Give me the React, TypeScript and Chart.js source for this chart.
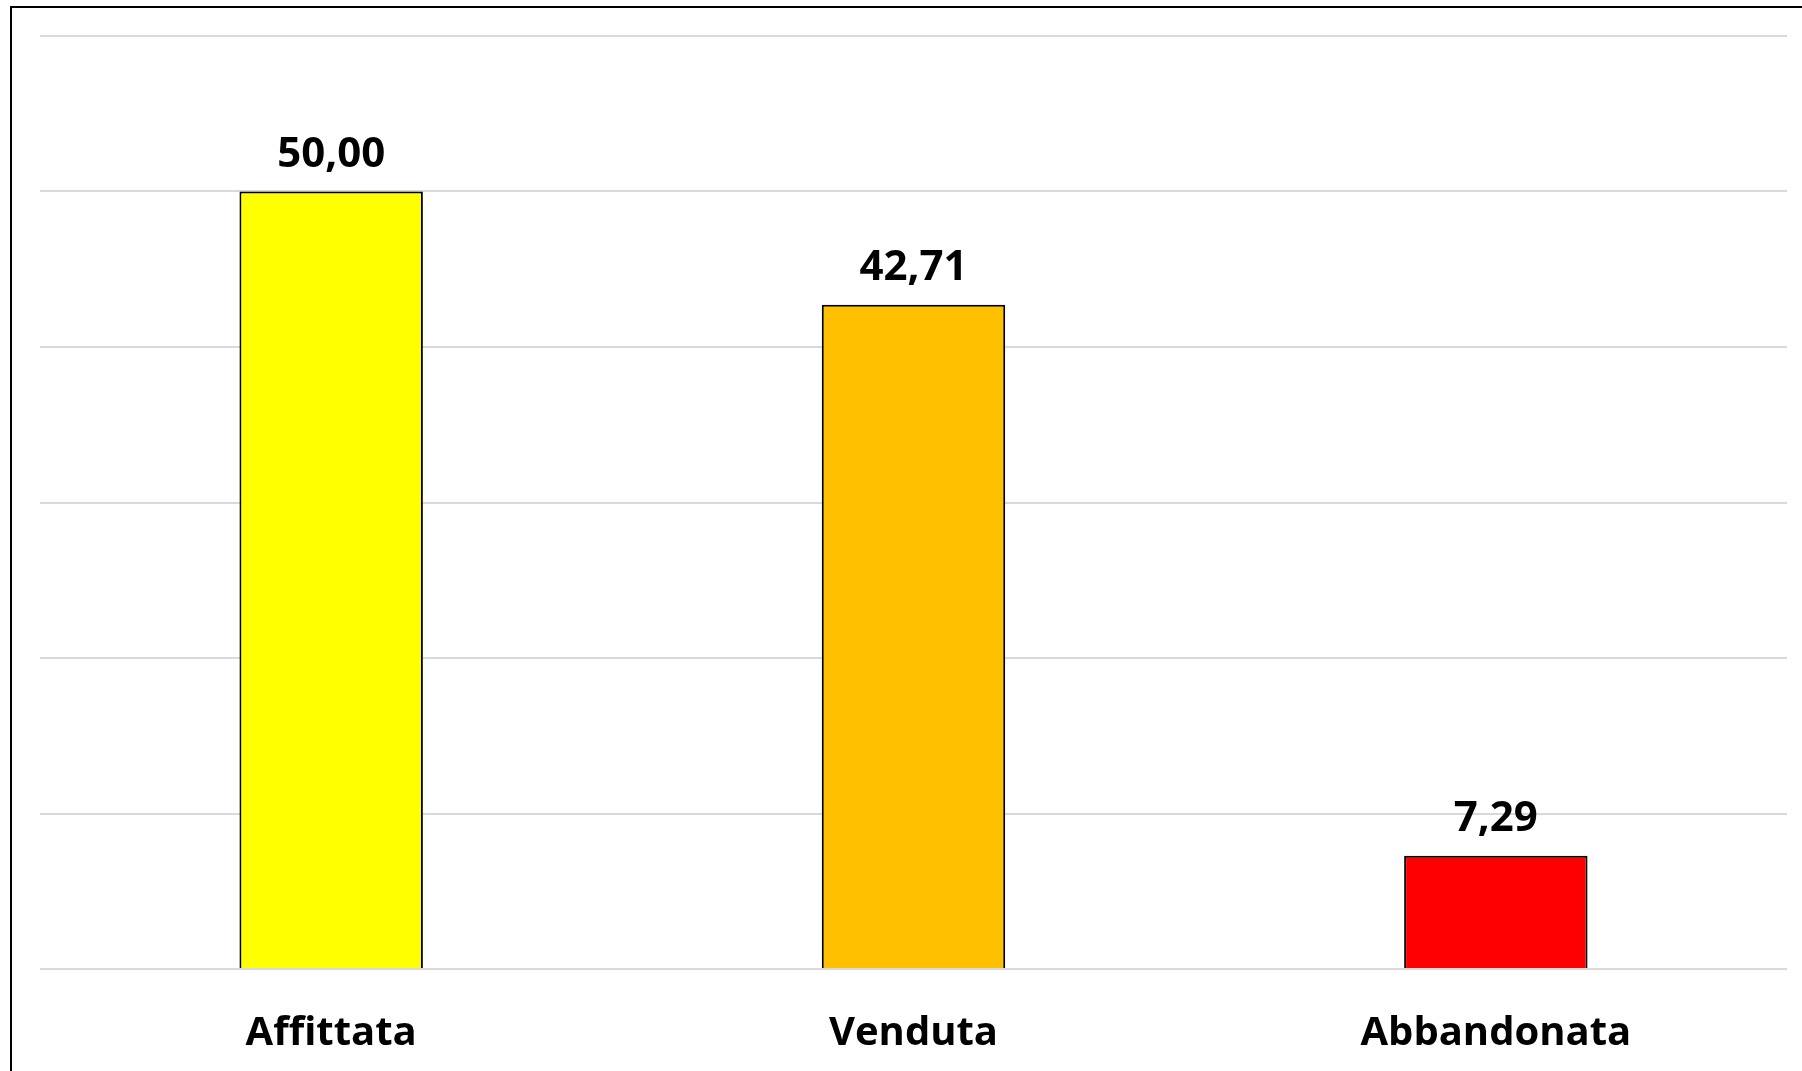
import React, { useEffect, useRef } from "react";
import { Chart, registerables } from "chart.js";

Chart.register(...registerables);

const categories = ["Affittata", "Venduta", "Abbandonata"];
const values = [50.0, 42.71, 7.29];
const barColors = ["#FFFF00", "#FFC000", "#FF0000"];
const yTicks = [0, 10, 20, 30, 40, 50, 60];

const FONT = "'Open Sans', 'Noto Sans', sans-serif";

const valueLabelPlugin = {
  id: "valueLabels",
  afterDatasetsDraw(chart: any) {
    const ctx = chart.ctx;
    const meta = chart.getDatasetMeta(0);
    ctx.save();
    ctx.font = `bold 42px ${FONT}`;
    ctx.fillStyle = "#000000";
    ctx.textAlign = "center";
    ctx.textBaseline = "alphabetic";
    meta.data.forEach((bar: any, i: number) => {
      const v = values[i];
      const txt = v.toFixed(2).replace(".", ",");
      ctx.fillText(txt, bar.x, bar.y - 25);
    });
    ctx.restore();
  },
};

export default function App() {
  const ref = useRef<HTMLCanvasElement | null>(null);

  useEffect(() => {
    document.body.style.margin = "0";
    const canvas = ref.current!;
    const chart = new Chart(canvas, {
      type: "bar",
      data: {
        labels: categories,
        datasets: [
          {
            data: values,
            backgroundColor: barColors,
            borderColor: "#000000",
            borderWidth: 2,
            categoryPercentage: 1,
            barPercentage: 0.315,
          },
        ],
      },
      options: {
        responsive: false,
        animation: false,
        devicePixelRatio: 1,
        layout: { padding: { left: 40, right: 15, top: 36, bottom: 0 } },
        plugins: {
          legend: { display: false },
          tooltip: { enabled: false },
        },
        scales: {
          x: {
            grid: { display: false, drawTicks: false },
            border: { display: false },
            ticks: {
              color: "#000000",
              font: { family: FONT, size: 40, weight: "bold" },
              padding: 41,
            },
            afterFit: (axis: any) => {
              axis.height = 102;
            },
          },
          y: {
            min: 0,
            max: 60,
            afterBuildTicks: (axis: any) => {
              axis.ticks = yTicks.map((v) => ({ value: v }));
            },
            afterFit: (axis: any) => {
              axis.width = 0;
            },
            ticks: { display: false },
            grid: { color: "#D9D9D9", lineWidth: 2, drawTicks: false },
            border: { display: false },
          },
        },
      },
      plugins: [valueLabelPlugin],
    });
    return () => chart.destroy();
  }, []);

  return (
    <div
      style={{
        position: "fixed",
        left: 0,
        top: 0,
        width: 1802,
        height: 1071,
        overflow: "hidden",
        background: "#ffffff",
      }}
    >
      <div
        style={{
          position: "absolute",
          left: 10,
          top: 6,
          width: 1900,
          height: 1200,
          border: "2px solid #000000",
          boxSizing: "border-box",
        }}
      />
      <canvas
        ref={ref}
        width={1802}
        height={1071}
        style={{ position: "absolute", left: 0, top: 0, width: 1802, height: 1071 }}
      />
    </div>
  );
}
